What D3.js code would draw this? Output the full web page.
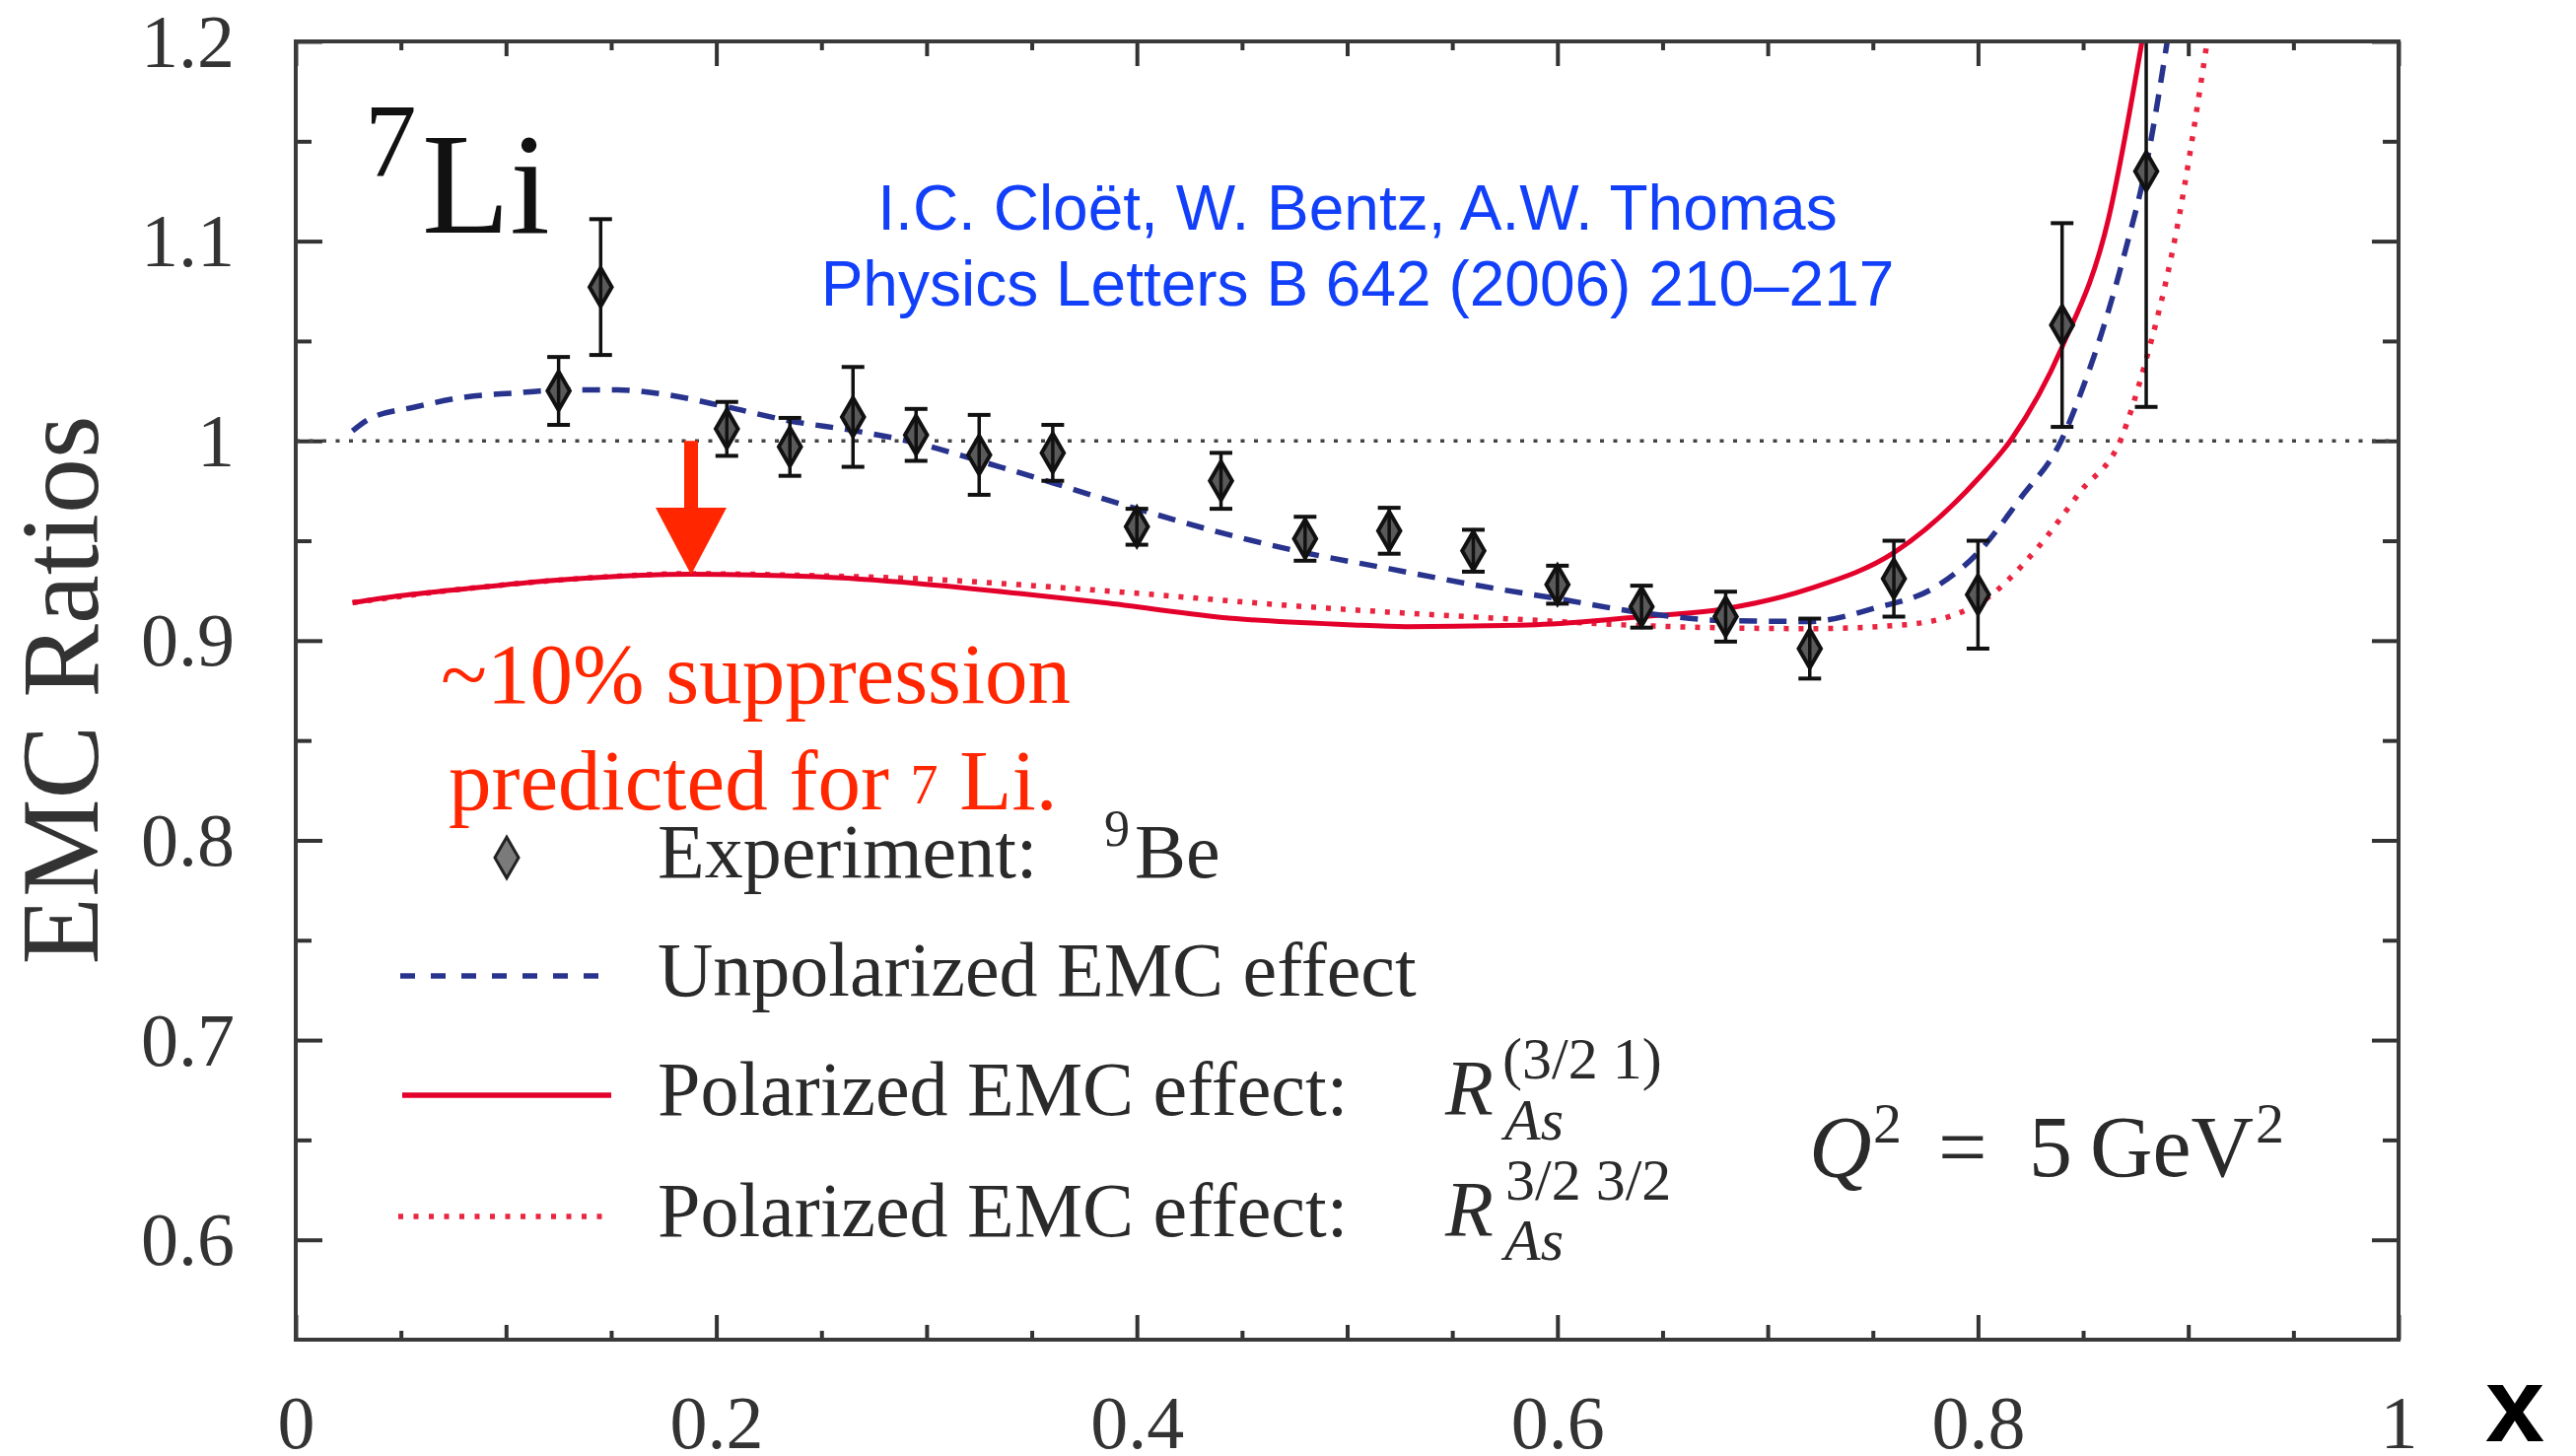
<!DOCTYPE html>
<html>
<head>
<meta charset="utf-8">
<script src="https://cdn.jsdelivr.net/npm/d3@7"></script>
<style>
  html, body { margin: 0; padding: 0; background: #fff; }
  svg { display: block; }
</style>
</head>
<body>
<svg id="chart" width="2613" height="1477"></svg>
<script>
// ---- Experimental EMC ratios (9Be) ----
const expX     = [0.125, 0.145, 0.205, 0.235, 0.265, 0.295, 0.325, 0.360, 0.400, 0.440, 0.480,
                  0.520, 0.560, 0.600, 0.640, 0.680, 0.720, 0.760, 0.800, 0.840, 0.880];
const expRatio = [1.025, 1.077, 1.006, 0.997, 1.012, 1.003, 0.993, 0.994, 0.957, 0.980, 0.951,
                  0.955, 0.945, 0.928, 0.917, 0.912, 0.896, 0.931, 0.923, 1.058, 1.135];
const expErr   = [0.017, 0.034, 0.0135, 0.0145, 0.025, 0.013, 0.020, 0.014, 0.009, 0.014, 0.011,
                  0.0115, 0.0105, 0.0095, 0.0105, 0.0125, 0.015, 0.019, 0.027, 0.051, 0.118];

// ---- Unpolarized EMC effect ----
const unpolX = [0.027, 0.035, 0.057, 0.081, 0.105, 0.125, 0.153, 0.177, 0.205, 0.235, 0.266, 0.295,
                0.325, 0.360, 0.384, 0.400, 0.440, 0.480, 0.520, 0.560, 0.600, 0.640, 0.680, 0.720,
                0.750, 0.780, 0.800, 0.820, 0.840, 0.850, 0.860, 0.870, 0.880, 0.890];
const unpolR = [1.005, 1.011, 1.017, 1.022, 1.024, 1.0255, 1.0255, 1.023, 1.017, 1.010, 1.005, 0.999,
                0.990, 0.979, 0.971, 0.966, 0.954, 0.944, 0.936, 0.928, 0.921, 0.914, 0.910, 0.9096,
                0.916, 0.927, 0.944, 0.971, 1.001, 1.027, 1.058, 1.095, 1.138, 1.200];

// ---- Polarized EMC effect, R^(3/2 1) ----
const pol1X = [0.027, 0.050, 0.081, 0.129, 0.188, 0.248, 0.296, 0.344, 0.384, 0.447, 0.500, 0.528,
               0.590, 0.640, 0.680, 0.720, 0.760, 0.800, 0.816, 0.840, 0.862, 0.878];
const pol1R = [0.919, 0.9225, 0.926, 0.9306, 0.9332, 0.932, 0.9286, 0.9236, 0.919, 0.911, 0.908, 0.907,
               0.908, 0.912, 0.916, 0.926, 0.944, 0.981, 1.001, 1.047, 1.111, 1.200];

// ---- Polarized EMC effect, R^(3/2 3/2) ----
const pol2X = [0.027, 0.081, 0.129, 0.188, 0.248, 0.296, 0.344, 0.384, 0.480, 0.600, 0.640, 0.720,
               0.766, 0.801, 0.828, 0.849, 0.868, 0.879, 0.894, 0.909];
const pol2R = [0.919, 0.926, 0.9306, 0.9335, 0.9325, 0.931, 0.928, 0.925, 0.917, 0.9096, 0.9075, 0.906,
               0.908, 0.919, 0.946, 0.975, 1.001, 1.037, 1.103, 1.200];

// ---- Axis ticks ----
const xMajorTicks = [0, 0.2, 0.4, 0.6, 0.8, 1];
const xMidTicks   = [0.1, 0.3, 0.5, 0.7, 0.9];
const xMinorTicks = [0.05, 0.15, 0.25, 0.35, 0.45, 0.55, 0.65, 0.75, 0.85, 0.95];
const xTickLabels = ["0", "0.2", "0.4", "0.6", "0.8", "1"];
const yMajorTicks = [0.6, 0.7, 0.8, 0.9, 1.0, 1.1, 1.2];
const yMinorTicks = [0.65, 0.75, 0.85, 0.95, 1.05, 1.15];
const yTickLabels = ["0.6", "0.7", "0.8", "0.9", "1", "1.1", "1.2"];

// ---- Annotation: arrow marking the predicted suppression ----
const arrowX = 0.188, arrowFrom = 1.0, arrowTo = 0.933;

// ---------------------------------------------------------------
const svg = d3.select("#chart");
const frame = { left: 300, right: 2433, top: 42, bottom: 1359 };
const x = d3.scaleLinear().domain([0, 1]).range([frame.left, frame.right]);
const y = d3.scaleLinear().domain([0.55, 1.2]).range([frame.bottom, frame.top]);

const ink = "#333";
const serif = "'Liberation Serif', 'DejaVu Serif', serif";
const sans = "'Liberation Sans', Arial, sans-serif";
const blue = "#27338c", red = "#e3002b", redDot = "#ea2540";

svg.append("rect").attr("width", 2613).attr("height", 1477).attr("fill", "#fff");

svg.append("defs").append("clipPath").attr("id", "plotClip")
  .append("rect")
  .attr("x", frame.left).attr("y", frame.top)
  .attr("width", frame.right - frame.left).attr("height", frame.bottom - frame.top);

// ---- tick marks on all four sides, pointing inward ----
function ticks(axisGen, scale, values, size, tx, ty) {
  svg.append("g")
    .attr("transform", `translate(${tx},${ty})`)
    .call(axisGen(scale).tickValues(values).tickSize(-size).tickFormat(""))
    .call(g => g.select(".domain").remove())
    .call(g => g.selectAll("line").attr("stroke", ink).attr("stroke-width", 4));
}
[[xMajorTicks, 25], [xMidTicks, 15], [xMinorTicks, 9]].forEach(([v, s]) => {
  ticks(d3.axisBottom, x, v, s, 0, frame.bottom);
  ticks(d3.axisTop, x, v, s, 0, frame.top);
});
[[yMajorTicks, 27], [yMinorTicks, 16]].forEach(([v, s]) => {
  ticks(d3.axisLeft, y, v, s, frame.left, 0);
  ticks(d3.axisRight, y, v, s, frame.right, 0);
});

// ---- tick labels ----
svg.append("g")
  .attr("transform", `translate(0,${frame.bottom})`)
  .call(d3.axisBottom(x).tickValues(xMajorTicks).tickSize(0)
        .tickFormat((d, i) => xTickLabels[i]))
  .call(g => g.select(".domain").remove())
  .call(g => g.selectAll("text")
    .attr("y", 110).attr("dy", 0)
    .attr("font-family", serif).attr("font-size", 76).attr("fill", ink));

svg.append("g")
  .attr("transform", `translate(${frame.left},0)`)
  .call(d3.axisLeft(y).tickValues(yMajorTicks).tickSize(0)
        .tickFormat((d, i) => yTickLabels[i]))
  .call(g => g.select(".domain").remove())
  .call(g => g.selectAll("text")
    .attr("x", -62).attr("dy", "0.33em")
    .attr("font-family", serif).attr("font-size", 76).attr("fill", ink));

// ---- axis titles ----
svg.append("text")
  .attr("transform", "translate(99,700) rotate(-90)")
  .attr("text-anchor", "middle")
  .attr("font-family", serif).attr("font-size", 112).attr("fill", ink)
  .text("EMC Ratios");

svg.append("text")
  .attr("x", 2521).attr("y", 1462)
  .attr("font-family", sans).attr("font-weight", "bold").attr("font-size", 108).attr("fill", "#000")
  .text("x");

// ---- plot contents ----
const plotArea = svg.append("g").attr("clip-path", "url(#plotClip)");

// reference line at ratio 1
plotArea.append("line")
  .attr("x1", x(0)).attr("x2", x(1)).attr("y1", y(1)).attr("y2", y(1))
  .attr("stroke", "#444").attr("stroke-width", 3.5).attr("stroke-dasharray", "4,9.5");

const line = d3.line().x(d => x(d[0])).y(d => y(d[1])).curve(d3.curveMonotoneX);
const zip = (a, b) => a.map((v, i) => [v, b[i]]);

plotArea.append("path").datum(zip(pol2X, pol2R)).attr("d", line)
  .attr("fill", "none").attr("stroke", redDot).attr("stroke-width", 5.5)
  .attr("stroke-dasharray", "5,10");
plotArea.append("path").datum(zip(pol1X, pol1R)).attr("d", line)
  .attr("fill", "none").attr("stroke", red).attr("stroke-width", 5);
plotArea.append("path").datum(zip(unpolX, unpolR)).attr("d", line)
  .attr("fill", "none").attr("stroke", blue).attr("stroke-width", 5.5)
  .attr("stroke-dasharray", "18,12");

// experimental points with error bars
const pts = expX.map((v, i) => ({ x: v, r: expRatio[i], e: expErr[i] }));
const diamond = d3.symbol(d3.symbolDiamond, 440);
const pg = plotArea.selectAll("g.pt").data(pts).join("g").attr("class", "pt");
pg.append("path")
  .attr("d", diamond)
  .attr("transform", d => `translate(${x(d.x)},${y(d.r)})`)
  .attr("fill", "#5a5a5a").attr("stroke", "#111").attr("stroke-width", 4);
pg.append("line")
  .attr("x1", d => x(d.x)).attr("x2", d => x(d.x))
  .attr("y1", d => y(d.r + d.e)).attr("y2", d => y(d.r - d.e))
  .attr("stroke", "#111").attr("stroke-width", 3.5);
[1, -1].forEach(s => {
  pg.append("line")
    .attr("x1", d => x(d.x) - 11.5).attr("x2", d => x(d.x) + 11.5)
    .attr("y1", d => y(d.r + s * d.e)).attr("y2", d => y(d.r + s * d.e))
    .attr("stroke", "#111").attr("stroke-width", 4);
});

// ---- frame ----
svg.append("rect")
  .attr("x", frame.left).attr("y", frame.top)
  .attr("width", frame.right - frame.left).attr("height", frame.bottom - frame.top)
  .attr("fill", "none").attr("stroke", "#3a3a3a").attr("stroke-width", 4);

// ---- nucleus label ----
const nuc = svg.append("text").attr("font-family", serif).attr("fill", "#111");
nuc.append("tspan").attr("x", 370).attr("y", 179).attr("font-size", 105).text("7");
nuc.append("tspan").attr("x", 428).attr("y", 236).attr("font-size", 146).text("Li");

// ---- reference ----
const ref = svg.append("text").attr("font-family", sans).attr("font-size", 64)
  .attr("fill", "#1240fa").attr("text-anchor", "middle");
ref.append("tspan").attr("x", 1377).attr("y", 233).text("I.C. Cloët, W. Bentz, A.W. Thomas");
ref.append("tspan").attr("x", 1377).attr("y", 310).text("Physics Letters B 642 (2006) 210–217");

// ---- suppression annotation ----
const ax = x(arrowX), ay0 = y(arrowFrom), ay1 = y(arrowTo);
const headLen = 68, headHalf = 36, shaftHalf = 7;
svg.append("path")
  .attr("d", `M${ax - shaftHalf},${ay0} L${ax + shaftHalf},${ay0} L${ax + shaftHalf},${ay1 - headLen}
              L${ax + headHalf},${ay1 - headLen} L${ax},${ay1} L${ax - headHalf},${ay1 - headLen}
              L${ax - shaftHalf},${ay1 - headLen} Z`)
  .attr("fill", "#ff2600");

const note = svg.append("text").attr("font-family", serif).attr("font-size", 87).attr("fill", "#ff2600");
note.append("tspan").attr("x", 447).attr("y", 713).text("~10% suppression");
const note2 = svg.append("text").attr("font-family", serif).attr("font-size", 87).attr("fill", "#ff2600")
  .attr("x", 455).attr("y", 821);
note2.append("tspan").text("predicted for ");
note2.append("tspan").attr("font-size", 56).attr("dy", -6).text("7");
note2.append("tspan").attr("dy", 6).text(" Li.");

// ---- legend ----
const legText = (xx, yy, txt, size, italic) =>
  svg.append("text").attr("x", xx).attr("y", yy)
    .attr("font-family", serif).attr("font-size", size || 78).attr("fill", "#2a2a2a")
    .attr("font-style", italic ? "italic" : "normal").text(txt);

svg.append("path").attr("d", d3.symbol(d3.symbolDiamond, 500))
  .attr("transform", "translate(514,870)")
  .attr("fill", "#7a7a7a").attr("stroke", "#222").attr("stroke-width", 3);
legText(667, 890, "Experiment:");
legText(1120, 858, "9", 52);
legText(1151, 890, "Be");

svg.append("line").attr("x1", 406).attr("x2", 620).attr("y1", 990).attr("y2", 990)
  .attr("stroke", blue).attr("stroke-width", 5.5).attr("stroke-dasharray", "15,16");
legText(667, 1010, "Unpolarized EMC effect");

svg.append("line").attr("x1", 408).attr("x2", 620).attr("y1", 1111).attr("y2", 1111)
  .attr("stroke", red).attr("stroke-width", 5.5);
legText(667, 1131, "Polarized EMC effect:");
legText(1466, 1131, "R", 80, true);
legText(1524, 1094, "(3/2 1)", 60);
legText(1526, 1156, "As", 60, true);

svg.append("line").attr("x1", 404).attr("x2", 621).attr("y1", 1234).attr("y2", 1234)
  .attr("stroke", redDot).attr("stroke-width", 5.5).attr("stroke-dasharray", "5,10.5");
legText(667, 1254, "Polarized EMC effect:");
legText(1466, 1254, "R", 80, true);
legText(1527, 1217, "3/2 3/2", 60);
legText(1526, 1278, "As", 60, true);

// ---- kinematics ----
const q = svg.append("text").attr("font-family", serif).attr("font-size", 88).attr("fill", "#2a2a2a")
  .attr("y", 1193);
q.append("tspan").attr("x", 1835).attr("font-style", "italic").text("Q");
q.append("tspan").attr("x", 1900).attr("dy", -34).attr("font-size", 58).text("2");
q.append("tspan").attr("x", 1966).attr("dy", 34).text("=");
q.append("tspan").attr("x", 2058).text("5");
q.append("tspan").attr("x", 2120).text("GeV");
q.append("tspan").attr("x", 2288).attr("dy", -34).attr("font-size", 58).text("2");
</script>
</body>
</html>
